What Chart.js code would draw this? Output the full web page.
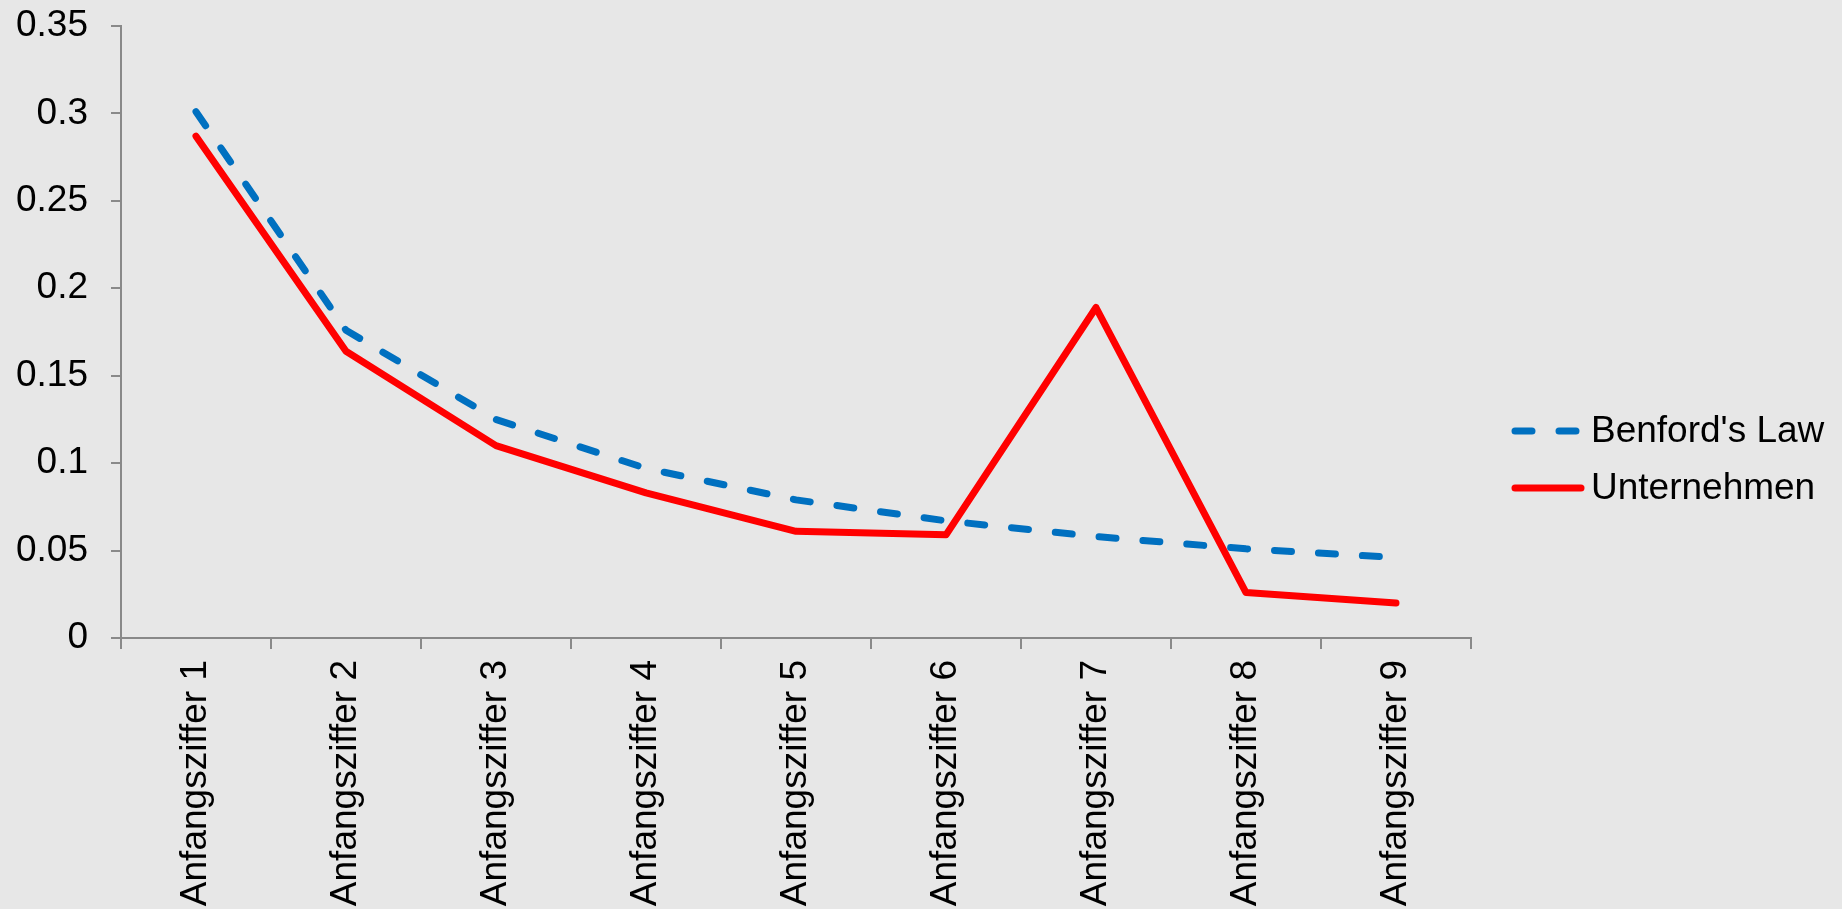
<!DOCTYPE html>
<html>
<head>
<meta charset="utf-8">
<script src="https://cdn.jsdelivr.net/npm/chart.js@4/dist/chart.umd.min.js"></script>
<style>
  html, body { margin: 0; padding: 0; background: #e7e7e7; overflow: hidden; }
  canvas { display: block; }
</style>
</head>
<body>
<canvas id="chart" width="1842" height="909"></canvas>
<script>
// Leading-digit frequencies
const categories = [
  'Anfangsziffer 1', 'Anfangsziffer 2', 'Anfangsziffer 3',
  'Anfangsziffer 4', 'Anfangsziffer 5', 'Anfangsziffer 6',
  'Anfangsziffer 7', 'Anfangsziffer 8', 'Anfangsziffer 9'
];
const benfordLaw  = [0.301, 0.176, 0.125, 0.097, 0.079, 0.067, 0.058, 0.051, 0.046];
const unternehmen = [0.287, 0.164, 0.110, 0.083, 0.061, 0.059, 0.189, 0.026, 0.020];
const seriesNames = ["Benford's Law", 'Unternehmen'];
const yMin = 0, yMax = 0.35, yStep = 0.05;

const FONT = 'Liberation Sans, Arial, Helvetica, sans-serif';
const FONT_SIZE = 37;
const AXIS_GRAY = '#898989';
const BG = '#e7e7e7';

// Fills the canvas background
const background = {
  id: 'background',
  beforeDraw(chart) {
    const ctx = chart.ctx;
    ctx.save();
    ctx.fillStyle = BG;
    ctx.fillRect(0, 0, chart.width, chart.height);
    ctx.restore();
  }
};

// Legend to the right of the plot, one line sample per dataset
const sideLegend = {
  id: 'sideLegend',
  afterDraw(chart) {
    const ctx = chart.ctx;
    const rows = [431, 488];
    const x0 = 1515, x1 = 1581, textX = 1591;
    ctx.save();
    chart.data.datasets.forEach((ds, i) => {
      const y = rows[i];
      ctx.beginPath();
      ctx.strokeStyle = ds.borderColor;
      ctx.lineWidth = ds.borderWidth;
      ctx.lineCap = 'round';
      ctx.setLineDash(ds.borderDash || []);
      ctx.moveTo(x0, y);
      ctx.lineTo(x1, y);
      ctx.stroke();
      ctx.setLineDash([]);
      ctx.fillStyle = '#000';
      ctx.font = FONT_SIZE + 'px ' + FONT;
      ctx.textBaseline = 'middle';
      ctx.textAlign = 'left';
      ctx.fillText(ds.label, textX, y + 1);
    });
    ctx.restore();
  }
};

new Chart(document.getElementById('chart'), {
  type: 'line',
  data: {
    labels: categories,
    datasets: [
      {
        label: seriesNames[0],
        data: benfordLaw,
        borderColor: '#0070c0',
        borderWidth: 7,
        borderDash: [17, 27],
        borderCapStyle: 'round',
        borderJoinStyle: 'round',
        pointRadius: 0,
        tension: 0,
        fill: false
      },
      {
        label: seriesNames[1],
        data: unternehmen,
        borderColor: '#ff0000',
        borderWidth: 7,
        borderCapStyle: 'round',
        borderJoinStyle: 'round',
        pointRadius: 0,
        tension: 0,
        fill: false
      }
    ]
  },
  options: {
    responsive: false,
    devicePixelRatio: 1,
    animation: false,
    layout: { padding: { top: 26, right: 371, bottom: 0, left: 0 } },
    plugins: {
      legend: { display: false },
      tooltip: { enabled: false }
    },
    scales: {
      x: {
        type: 'category',
        offset: true,
        grid: {
          offset: true,
          drawOnChartArea: false,
          drawTicks: true,
          tickLength: 11,
          color: AXIS_GRAY,
          lineWidth: 2
        },
        border: { display: true, color: AXIS_GRAY, width: 2 },
        ticks: {
          autoSkip: false,
          minRotation: 90,
          maxRotation: 90,
          padding: 11,
          color: '#000',
          font: { family: FONT, size: FONT_SIZE }
        },
        afterFit(scale) {
          scale.height = 271;
          scale.paddingLeft = 0;
          scale.paddingRight = 0;
          scale.paddingTop = 0;
          scale.paddingBottom = 0;
        }
      },
      y: {
        min: yMin,
        max: yMax,
        grid: {
          drawOnChartArea: false,
          drawTicks: true,
          tickLength: 10,
          color: AXIS_GRAY,
          lineWidth: 2
        },
        border: { display: true, color: AXIS_GRAY, width: 2 },
        ticks: {
          stepSize: yStep,
          padding: 23,
          color: '#000',
          font: { family: FONT, size: FONT_SIZE },
          callback: (v) => String(parseFloat(Number(v).toFixed(2)))
        },
        afterFit(scale) {
          scale.width = 121;
          scale.paddingTop = 0;
          scale.paddingBottom = 0;
        }
      }
    }
  },
  plugins: [background, sideLegend]
});
</script>
</body>
</html>
